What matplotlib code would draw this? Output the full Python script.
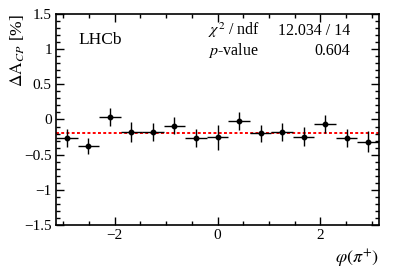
import numpy as np
import matplotlib.pyplot as plt
from matplotlib.ticker import MultipleLocator

plt.rcParams['font.family'] = ['Liberation Serif', 'DejaVu Serif']
plt.rcParams['mathtext.fontset'] = 'stix'

# 15 bins in phi(pi+) over [-pi, pi]
nbins = 15
dacp = [-0.26, -0.377, 0.04, -0.182, -0.173, -0.088, -0.267, -0.253,
        -0.017, -0.196, -0.178, -0.245, -0.064, -0.267, -0.316]
dacp_err = [0.13, 0.12, 0.126, 0.14, 0.13, 0.125, 0.128, 0.178,
            0.128, 0.123, 0.13, 0.135, 0.121, 0.126, 0.15]
fit_value = -0.19
chi2_text = "12.034 / 14"
pvalue_text = "0.604"

edges = np.linspace(-np.pi, np.pi, nbins + 1)
centers = 0.5 * (edges[1:] + edges[:-1])
half_w = 0.5 * (edges[1:] - edges[:-1])

fig = plt.figure(figsize=(3.99, 2.70), dpi=100)
ax = fig.add_axes([0.1404, 0.1667, 0.8095, 0.7815])

ax.plot([-np.pi, np.pi], [fit_value, fit_value], color="red", ls=(0, (1.5, 1.2)), lw=1.4, zorder=1)
ax.errorbar(centers, dacp, xerr=half_w, yerr=dacp_err, fmt="o", color="black",
            ms=3.2, lw=1.0, capsize=0, zorder=2)

ax.set_xlim(-np.pi, np.pi)
ax.set_ylim(-1.5, 1.5)
ax.xaxis.set_major_locator(MultipleLocator(2))
ax.xaxis.set_minor_locator(MultipleLocator(0.5))
ax.yaxis.set_major_locator(MultipleLocator(0.5))
ax.yaxis.set_minor_locator(MultipleLocator(0.1))
ax.tick_params(which="both", direction="in", top=True, right=True, labelsize=11, width=1)
ax.tick_params(which="major", length=6, pad=3)
ax.tick_params(which="minor", length=3)
for s in ax.spines.values():
    s.set_linewidth(1.2)

fmt = plt.FuncFormatter(lambda v, p: ("%g" % v).replace("-", "\u2212"))
ax.yaxis.set_major_formatter(fmt)
ax.xaxis.set_major_formatter(fmt)

ax.set_ylabel(r"$\Delta\mathrm{A}_{CP}$ [%]", fontsize=12.5, loc="top")
ax.yaxis.set_label_coords(-0.09, 1.0)
ax.set_xlabel(r"$\varphi(\pi^{+})$", fontsize=13, loc="right")

ax.text(0.071, 0.858, "LHCb", transform=ax.transAxes, fontsize=12.5)
ax.text(0.47, 0.9, r"$\chi^2$ / ndf", transform=ax.transAxes, fontsize=11.5)
ax.text(0.91, 0.9, chi2_text, transform=ax.transAxes, fontsize=11.5, ha="right")
ax.text(0.47, 0.806, r"$p$-value", transform=ax.transAxes, fontsize=11.5)
ax.text(0.91, 0.806, pvalue_text, transform=ax.transAxes, fontsize=11.5, ha="right")

plt.savefig("out.png", dpi=100)
